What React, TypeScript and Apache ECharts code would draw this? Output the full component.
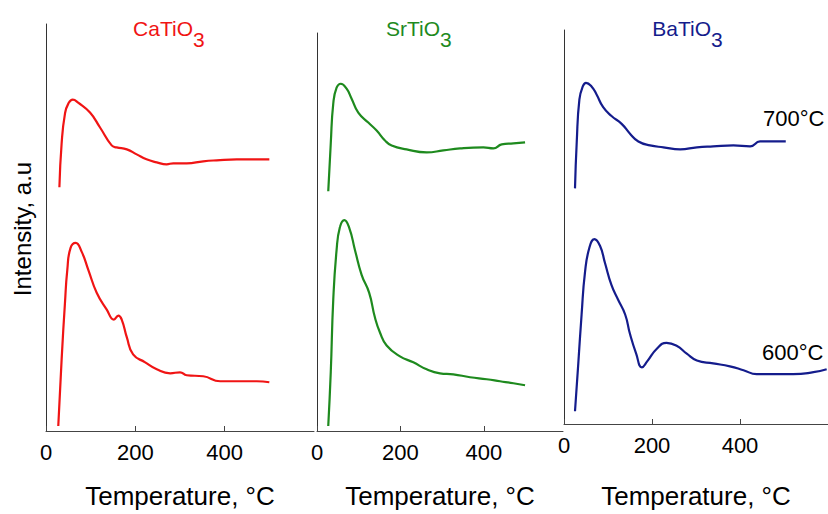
import React, { useEffect, useRef } from "react";
import * as echarts from "echarts";

// Tick labels on the temperature axes
const xTicks = [0, 200, 400];

// CaTiO3
const caT700 = [30, 35, 42.5, 50, 60, 72, 98.5, 121, 147, 158, 181, 203, 225, 248, 270, 285, 315, 352, 382, 427, 472, 500];
const caI700 = [245, 289, 319, 329, 333, 330, 320, 305, 287, 285, 283, 278, 273, 270, 268, 269, 269, 271, 272, 273, 273, 273];
const caT600 = [27.5, 35, 42.5, 47.7, 55, 66.5, 80, 94.7, 113.5, 136, 152, 162, 169.5, 181, 195, 222, 248, 278, 300, 315, 352, 390, 427, 472, 500];
const caI600 = [5, 72, 129, 162, 184, 189, 180, 162, 139, 122, 112, 116, 112, 94, 77, 69, 62, 58, 59, 56, 55, 50, 50, 50, 49];

// SrTiO3
const srT700 = [27, 33, 39, 47, 57, 71, 83, 99, 123, 143, 163, 179, 215, 263, 303, 343, 399, 423, 443, 471, 499];
const srI700 = [241, 289, 329, 345, 349, 344, 334, 320, 310, 302, 292, 287, 283, 280, 282, 284, 285, 284, 288, 289, 290];
const srT600 = [27, 33, 39, 47, 55, 65.5, 77.5, 91, 107, 125, 139, 151, 167, 199, 231, 263, 295, 327, 367, 407, 439, 471, 499];
const srI600 = [5, 59, 132, 182, 205, 212, 204, 182, 157, 139, 114, 99, 86, 75, 69, 62, 58, 57, 54, 52, 50, 48, 46];

// BaTiO3
const baT700 = [25, 29, 35, 42.5, 50, 63, 74, 89, 108, 131, 150, 169, 195.5, 226, 264, 302, 339, 385, 423, 445.5, 476, 504];
const baI700 = [241, 289, 332, 345, 349, 345, 337, 324, 315, 307, 297, 289, 285, 283, 281, 283, 284, 285, 284, 289, 289, 289];
const baT600 = [25, 32.5, 40, 47.7, 57.5, 69, 82, 93, 108, 123, 139, 150, 164, 177, 189, 211, 233, 256, 279, 302, 339, 377, 408, 438, 476, 521, 567, 597];
const baI600 = [13, 62, 112, 155, 180, 189, 182, 165, 142, 127, 112, 92, 72, 58, 64, 77, 83, 80, 72, 65, 62, 59, 55, 51, 51, 51, 53, 56];

const FONT = "Liberation Sans, Arial, sans-serif";
const AXIS_BOTTOM = 433;

const panels = [
  { left: 46, width: 268, top: 24, xMax: 600, nameGap: 52, color: "#f01414", title: "CaTiO", split: 193,
    s700: [caT700, caI700], s600: [caT600, caI600] },
  { left: 317, width: 246, top: 33, xMax: 590, nameGap: 52, color: "#1e8a1e", title: "SrTiO", split: 440,
    s700: [srT700, srI700], s600: [srT600, srI600] },
  { left: 564, width: 264, top: 30, xMax: 600, nameGap: 59, color: "#141c8c", title: "BaTiO", split: 711,
    s700: [baT700, baI700], s600: [baT600, baI600] },
];

const pairs = (t: number[], v: number[]) => t.map((x, i) => [x, v[i]]);

export default function App() {
  const ref = useRef<HTMLDivElement>(null);
  useEffect(() => {
    document.body.style.margin = "0";
    const chart = echarts.init(ref.current!, null, { renderer: "svg" });
    const grid = panels.map((p) => ({
      left: p.left,
      top: p.top,
      width: p.width,
      height: AXIS_BOTTOM - p.top,
      containLabel: false,
    }));
    const xAxis = panels.map((p, i) => ({
      type: "value",
      gridIndex: i,
      min: 0,
      max: p.xMax,
      interval: 200,
      axisLine: { show: true, lineStyle: { color: "#444", width: 1 } },
      axisTick: { show: true, inside: true, length: 5, lineStyle: { color: "#444" } },
      axisLabel: {
        color: "#000",
        fontSize: 22,
        fontFamily: FONT,
        margin: 10,
        showMaxLabel: false,
        formatter: (v: number) => (xTicks.includes(v) ? String(v) : ""),
      },
      splitLine: { show: false },
      name: "Temperature, °C",
      nameLocation: "middle",
      nameGap: p.nameGap,
      nameTextStyle: { fontSize: 26, color: "#000", fontFamily: FONT },
    }));
    const yAxis = panels.map((p, i) => ({
      type: "value",
      gridIndex: i,
      min: 0,
      max: AXIS_BOTTOM - p.top,
      axisLine: { show: true, lineStyle: { color: "#333", width: 1 } },
      axisTick: { show: false },
      axisLabel: { show: false },
      splitLine: { show: false },
    }));
    const series: any[] = [];
    panels.forEach((p, i) => {
      [p.s700, p.s600].forEach((s) => {
        series.push({
          type: "line",
          xAxisIndex: i,
          yAxisIndex: i,
          data: pairs(s[0], s[1]),
          showSymbol: false,
          smooth: 0.5,
          lineStyle: { color: p.color, width: 2.2 },
          itemStyle: { color: p.color },
        });
      });
    });
    const graphic: any[] = [];
    panels.forEach((p) => {
      graphic.push({
        type: "text",
        x: p.split,
        y: 28,
        style: { text: p.title, fill: p.color, font: `21px ${FONT}`, textAlign: "right", textVerticalAlign: "middle" },
      });
      graphic.push({
        type: "text",
        x: p.split,
        y: 39,
        style: { text: "3", fill: p.color, font: `21px ${FONT}`, textAlign: "left", textVerticalAlign: "middle" },
      });
    });
    graphic.push({
      type: "text",
      x: 763,
      y: 118,
      style: { text: "700°C", fill: "#000", font: `22px ${FONT}`, textAlign: "left", textVerticalAlign: "middle" },
    });
    graphic.push({
      type: "text",
      x: 762,
      y: 352,
      style: { text: "600°C", fill: "#000", font: `22px ${FONT}`, textAlign: "left", textVerticalAlign: "middle" },
    });
    graphic.push({
      type: "text",
      x: 22,
      y: 229,
      rotation: Math.PI / 2,
      style: { text: "Intensity, a.u", fill: "#000", font: `24px ${FONT}`, textAlign: "center", textVerticalAlign: "middle" },
    });
    chart.setOption({
      animation: false,
      backgroundColor: "#fff",
      grid,
      xAxis,
      yAxis,
      series,
      graphic,
    });
    return () => chart.dispose();
  }, []);
  return <div ref={ref} style={{ width: 828, height: 514 }} />;
}
